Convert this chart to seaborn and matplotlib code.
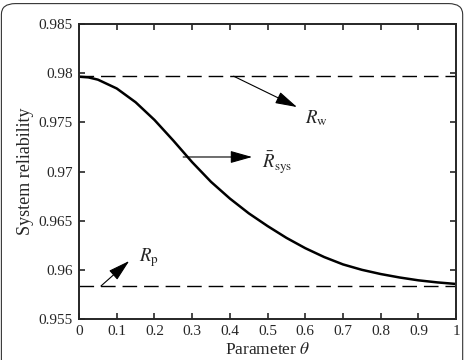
import numpy as np
import pandas as pd
import matplotlib
matplotlib.use("Agg")
import matplotlib.pyplot as plt
from matplotlib.patches import FancyBboxPatch
import seaborn as sns

# Values
theta = [0.0, 0.025, 0.05, 0.1, 0.15, 0.2, 0.25, 0.3, 0.35, 0.4, 0.45, 0.5,
         0.55, 0.6, 0.65, 0.7, 0.75, 0.8, 0.85, 0.9, 0.95, 1.0]
r_sys = [0.97965, 0.97958, 0.97935, 0.97845, 0.97705, 0.97525, 0.97315,
         0.97095, 0.96895, 0.96725, 0.96575, 0.96445, 0.96325, 0.9622,
         0.9613, 0.96055, 0.96, 0.95957, 0.95922, 0.95893, 0.95872, 0.95856]
r_w = 0.9797
r_p = 0.95835
x_ticks = [0, 0.1, 0.2, 0.3, 0.4, 0.5, 0.6, 0.7, 0.8, 0.9, 1]
x_tick_labels = ["0", "0.1", "0.2", "0.3", "0.4", "0.5", "0.6", "0.7", "0.8", "0.9", "1"]
y_ticks = [0.955, 0.96, 0.965, 0.97, 0.975, 0.98, 0.985]
y_tick_labels = ["0.955", "0.96", "0.965", "0.97", "0.975", "0.98", "0.985"]

df = pd.DataFrame({"theta": theta, "r_sys": r_sys})

sns.set_style("ticks")
plt.rcParams["font.family"] = ["Liberation Serif", "DejaVu Serif"]
plt.rcParams["mathtext.fontset"] = "stix"

fig = plt.figure(figsize=(4.65, 3.6), dpi=100)
ax = fig.add_axes([0.170, 0.114, 0.811, 0.819])

# rounded frame around the whole figure
fig.patches.append(FancyBboxPatch((0.003, -0.1), 0.992, 1.09,
                                  boxstyle="round,pad=0,rounding_size=0.03",
                                  transform=fig.transFigure, fill=False,
                                  ec="#333333", lw=0.8))

sns.lineplot(data=df, x="theta", y="r_sys", ax=ax, color="black", lw=1.8,
             solid_joinstyle="round")
ax.axhline(r_w, color="black", lw=1.0, dashes=(10.5, 5))
ax.axhline(r_p, color="black", lw=1.0, dashes=(10.5, 5))

arrow = dict(arrowstyle="-|>,head_length=1.35,head_width=0.38", color="black",
             lw=0.8, shrinkA=0, shrinkB=0)
ax.annotate("", xy=(0.578, 0.97656), xytext=(0.41, r_w), arrowprops=arrow)
ax.text(0.60, 0.97544, r"$R_{\rm w}$", fontsize=13.5, ha="left", va="center")
ax.annotate("", xy=(0.459, 0.97148), xytext=(0.276, 0.97148), arrowprops=arrow)
ax.text(0.485, 0.97086, r"$\bar{R}_{\rm sys}$", fontsize=13.5, ha="left", va="center")
ax.annotate("", xy=(0.133, 0.9609), xytext=(0.058, r_p), arrowprops=arrow)
ax.text(0.159, 0.9612, r"$R_{\rm p}$", fontsize=13.5, ha="left", va="center")

ax.set_xlim(0, 1)
ax.set_ylim(0.955, 0.985)
ax.set_xticks(x_ticks)
ax.set_xticklabels(x_tick_labels)
ax.set_yticks(y_ticks)
ax.set_yticklabels(y_tick_labels)
ax.tick_params(direction="in", top=True, right=True, length=4, width=1.2,
               labelsize=11, pad=4.5)
for s in ax.spines.values():
    s.set_linewidth(1.4)
    s.set_visible(True)
ax.set_xlabel(r"Parameter $\theta$", fontsize=12.5, labelpad=3)
ax.set_ylabel("System reliability", fontsize=13, labelpad=3)

fig.savefig("out.png", dpi=100)
